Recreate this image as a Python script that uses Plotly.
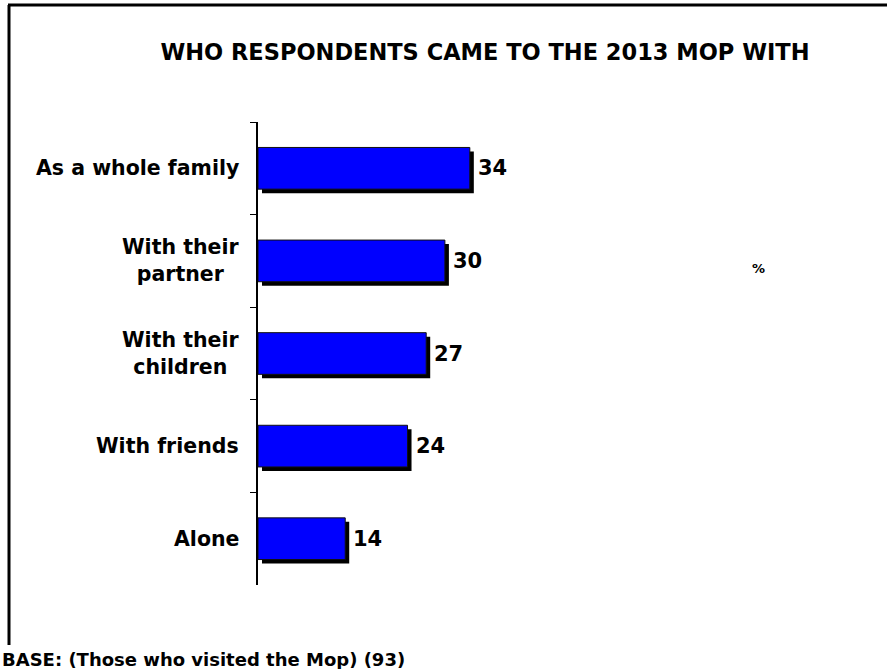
import plotly.graph_objects as go

# Survey results: who respondents came to the 2013 MOP with (%)
categories = ["As a whole family", "With their partner", "With their children", "With friends", "Alone"]
category_labels = ["As a whole family", "With their<br>partner", "With their<br>children", "With friends", "Alone"]
values = [34, 30, 27, 24, 14]

W, H = 887, 669
L, R, T, B = 258, 6, 122, 84
plot_w = W - L - R
plot_h = H - T - B
X_MAX = 100


def px_x(x):
    return (x - L) / plot_w


def px_y(y):
    return (H - B - y) / plot_h


FONT = "Verdana, DejaVu Sans, sans-serif"
BAR_W = 0.45
shadow_dx = 4 * X_MAX / plot_w              # 4 px right
shadow_dy = 4 / (plot_h / len(categories))  # 4 px down

fig = go.Figure()

# drop shadow behind each bar
fig.add_trace(go.Bar(
    y=categories, x=values, base=shadow_dx, orientation="h",
    width=BAR_W, offset=-BAR_W / 2 + shadow_dy,
    marker=dict(color="black", line=dict(width=0)),
    hoverinfo="skip", showlegend=False,
))

# main bars
fig.add_trace(go.Bar(
    y=categories, x=values, orientation="h",
    width=BAR_W, offset=-BAR_W / 2,
    marker=dict(color="#0000FF", line=dict(color="#111111", width=1)),
    showlegend=False,
))

annotations = []
# value labels
for cat, v in zip(categories, values):
    annotations.append(dict(
        x=v, y=cat, xref="x", yref="y", text=str(v), showarrow=False,
        xanchor="left", yanchor="middle", xshift=6,
        font=dict(family=FONT, size=21, color="black", weight="bold"),
    ))
# category labels (two-line labels centred under each other)
for cat, lab in zip(categories, category_labels):
    annotations.append(dict(
        x=0, y=cat, xref="paper", yref="y", text=lab, showarrow=False,
        xanchor="right", yanchor="middle", align="center", xshift=-17,
        font=dict(family=FONT, size=20.5, color="black", weight="bold"),
    ))
# unit marker
annotations.append(dict(
    x=px_x(758), y=px_y(268), xref="paper", yref="paper", text="%",
    showarrow=False, xanchor="center", yanchor="middle",
    font=dict(family=FONT, size=13, color="black", weight="bold"),
))
# base note
annotations.append(dict(
    x=px_x(0), y=px_y(659), xref="paper", yref="paper",
    text="BASE: (Those who visited the Mop) (93)", showarrow=False,
    xanchor="left", yanchor="middle",
    font=dict(family=FONT, size=18, color="black", weight="bold"),
))

shapes = [
    # slide frame: left and top edges
    dict(type="line", xref="paper", yref="paper",
         x0=px_x(9), x1=px_x(9), y0=px_y(645), y1=px_y(5),
         line=dict(color="black", width=3)),
    dict(type="line", xref="paper", yref="paper",
         x0=px_x(8), x1=px_x(W + 2), y0=px_y(5), y1=px_y(5),
         line=dict(color="black", width=3)),
]

fig.update_layout(
    width=W, height=H,
    margin=dict(l=L, r=R, t=T, b=B),
    paper_bgcolor="white", plot_bgcolor="white",
    title=dict(
        text="WHO RESPONDENTS CAME TO THE 2013 MOP WITH",
        x=485 / W, xanchor="center", y=1 - 52 / H, yanchor="middle",
        xref="container", yref="container",
        font=dict(family=FONT, size=22.5, color="black", weight="bold"),
    ),
    xaxis=dict(range=[0, X_MAX], visible=False, showgrid=False, zeroline=False),
    yaxis=dict(
        categoryorder="array", categoryarray=categories, autorange="reversed",
        showticklabels=False, showgrid=False, zeroline=False,
        showline=True, linecolor="black", linewidth=1.5,
        ticks="outside", ticklen=6, tickwidth=1, tickcolor="black",
        tickson="boundaries",
    ),
    bargap=0.55,
    annotations=annotations,
    shapes=shapes,
)

fig.write_html("out.html")
